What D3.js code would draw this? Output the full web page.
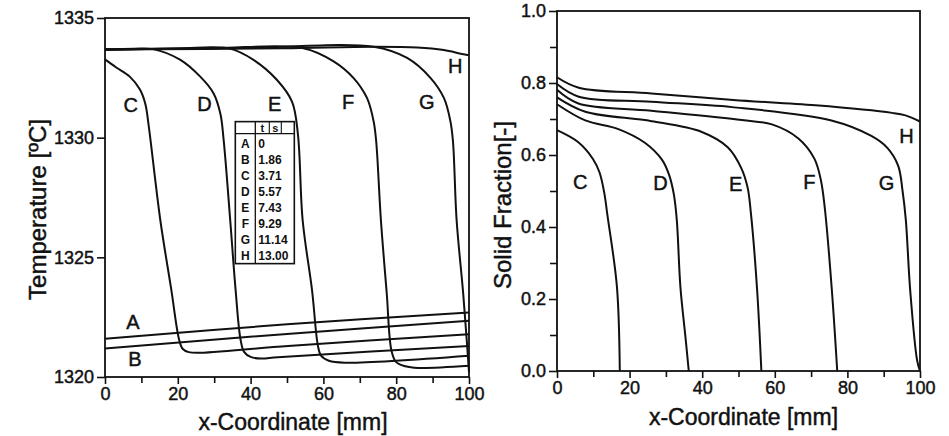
<!DOCTYPE html>
<html><head><meta charset="utf-8">
<script src="https://cdn.jsdelivr.net/npm/d3@7"></script>
<style>
body{margin:0;background:#fff}
svg text{font-family:"Liberation Sans",Arial,Helvetica,sans-serif;fill:#111;stroke:#111;stroke-width:0.45px}
</style></head><body>
<svg id="chart" width="949" height="436"></svg>
<script>
// ---- data ----
const xMajor = [0, 20, 40, 60, 80, 100];
const xMinor = [10, 30, 50, 70, 90];
const tempTicks = [1320, 1325, 1330, 1335];
const fracMajor = [0, 0.2, 0.4, 0.6, 0.8, 1.0];
const fracMinor = [0.1, 0.3, 0.5, 0.7, 0.9];

// temperature profiles [x mm, T degC]
const tempA = [[0, 1321.6], [50, 1322.2], [100, 1322.7]];
const tempB = [[0, 1321.19], [50, 1321.8], [100, 1322.35]];
const tempC = [[0, 1333.27], [3.1, 1332.93], [6.8, 1332.55], [9.6, 1332.01], [11.1, 1331.4], [12, 1330.5], [15.2, 1326.55], [18.2, 1323.66], [20.3, 1321.6], [21.3, 1321.18], [23, 1321.04], [25.5, 1321.01], [50.3, 1321.3], [100, 1321.79]];
const tempD = [[0, 1333.68], [8, 1333.72], [13.2, 1333.7], [20.6, 1333.26], [26.1, 1332.56], [29.8, 1331.86], [31.7, 1331.0], [32.6, 1329.9], [34.4, 1326.55], [35.9, 1323.6], [37.2, 1321.6], [38.2, 1321.05], [40, 1320.84], [42.9, 1320.77], [47.5, 1320.83], [100, 1321.3]];
const tempE = [[0, 1333.68], [20, 1333.73], [34.3, 1333.72], [40.8, 1333.25], [47.2, 1332.42], [51.4, 1331.5], [53, 1330.14], [54.3, 1326.55], [56.9, 1323.6], [58.5, 1321.3], [59.4, 1320.88], [61.5, 1320.68], [65.8, 1320.6], [100, 1320.89]];
const tempF = [[0, 1333.68], [30, 1333.74], [54.5, 1333.74], [62.8, 1333.19], [68.3, 1332.49], [72, 1331.65], [73.8, 1330.68], [74.5, 1329.85], [75.8, 1326.55], [77.4, 1323.5], [78.7, 1321.1], [80, 1320.62], [82.5, 1320.45], [86, 1320.38], [100, 1320.47]];
const tempG = [[0, 1333.68], [40, 1333.76], [73.8, 1333.8], [83, 1333.33], [89.4, 1332.5], [93.1, 1331.66], [94.9, 1330.68], [95.6, 1329.84], [96.6, 1326.55], [98.4, 1323.5], [99.4, 1321.5], [100, 1320.2]];
const tempH = [[0, 1333.68], [49, 1333.74], [73.8, 1333.8], [85.8, 1333.77], [93.1, 1333.66], [97.7, 1333.51], [100, 1333.44]];

// solid fraction profiles [x mm, fs]
const fracC = [[0, 0.669], [5.8, 0.636], [9.9, 0.589], [11.7, 0.552], [13, 0.496], [13.9, 0.432], [16.5, 0.235], [17.3, 0]];
const fracD = [[0, 0.741], [7.8, 0.696], [16.9, 0.672], [24.2, 0.634], [28.9, 0.587], [30.9, 0.544], [32.2, 0.49], [33, 0.42], [34, 0.233], [35.4, 0.093], [36.3, 0]];
const fracE = [[0, 0.76], [7.8, 0.72], [26.1, 0.694], [39.9, 0.664], [47.1, 0.621], [50.7, 0.565], [52.5, 0.51], [53.4, 0.44], [55.1, 0.23], [56.3, 0]];
const fracF = [[0, 0.781], [5.9, 0.743], [26, 0.723], [50.9, 0.697], [59.2, 0.685], [66.5, 0.646], [70.9, 0.59], [72.7, 0.53], [73.8, 0.45], [75.7, 0.227], [77.2, 0]];
const fracG = [[0, 0.797], [6, 0.762], [26, 0.748], [48.2, 0.733], [75.6, 0.696], [86.6, 0.653], [91, 0.62], [94, 0.57], [95.2, 0.5], [96.1, 0.419], [97.3, 0.224], [99.2, 0.03], [100, 0]];
const fracH = [[0, 0.816], [6, 0.787], [26, 0.771], [48.6, 0.753], [71.2, 0.738], [92.3, 0.717], [96, 0.71], [100, 0.693]];

// curve letters and where they sit (data units)
const tempLabels = [["A", 7.7, 1322.29], ["B", 8.2, 1320.76], ["C", 7.1, 1331.36], ["D", 27.3, 1331.41], ["E", 46.6, 1331.4], ["F", 66.8, 1331.5], ["G", 88.4, 1331.47], ["H", 96.2, 1333.0]];
const fracLabels = [["C", 6.4, 0.525], ["D", 28.5, 0.522], ["E", 49.2, 0.519], ["F", 69.5, 0.525], ["G", 90.8, 0.522], ["H", 96.3, 0.652]];

// time table
const tableKeys = ["A", "B", "C", "D", "E", "F", "G", "H"];
const tableTimes = ["0", "1.86", "3.71", "5.57", "7.43", "9.29", "11.14", "13.00"];

const svg = d3.select('#chart');

function panel(opts) {
  const g = svg.append('g');
  const x = opts.x, y = opts.y;
  const [x0, x1] = x.range(), [y0, y1] = y.range();

  // minor + major ticks
  g.append('g').attr('transform', `translate(0,${y0})`)
    .call(d3.axisBottom(x).tickValues(xMinor).tickSize(6).tickFormat(''));
  g.append('g').attr('transform', `translate(0,${y0})`)
    .call(d3.axisBottom(x).tickValues(xMajor).tickSize(7).tickPadding(3).tickFormat(d3.format('d')));
  if (opts.yMinor) {
    g.append('g').attr('transform', `translate(${x0},0)`)
      .call(d3.axisLeft(y).tickValues(opts.yMinor).tickSize(7).tickFormat(''));
  }
  g.append('g').attr('transform', `translate(${x0},0)`)
    .call(d3.axisLeft(y).tickValues(opts.yTicks).tickSize(8).tickPadding(3).tickFormat(opts.yFormat));

  g.selectAll('.domain').remove();
  g.selectAll('.tick line').attr('stroke', '#111').attr('stroke-width', 1.6);
  g.selectAll('.tick text').attr('font-size', 18).attr('fill', '#111')
    .style('font-family', '"Liberation Sans",Arial,sans-serif');

  g.append('rect')
    .attr('x', x0).attr('y', y1)
    .attr('width', x1 - x0).attr('height', y0 - y1)
    .attr('fill', 'none').attr('stroke', '#111').attr('stroke-width', 1.8);

  const line = d3.line().x(d => x(d[0])).y(d => y(d[1])).curve(d3.curveCatmullRom.alpha(0.5));
  g.selectAll('path.curve')
    .data(opts.series)
    .join('path')
    .attr('class', 'curve')
    .attr('d', line)
    .attr('fill', 'none')
    .attr('stroke', '#111')
    .attr('stroke-width', 2);

  g.selectAll('text.lab')
    .data(opts.labels)
    .join('text')
    .attr('class', 'lab')
    .attr('x', d => x(d[1]))
    .attr('y', d => y(d[2]))
    .attr('text-anchor', 'middle')
    .attr('dominant-baseline', 'central')
    .attr('font-size', 20)
    .text(d => d[0]);

  g.append('text')
    .attr('x', (x0 + x1) / 2 + opts.xTitleDx)
    .attr('y', opts.xTitleY)
    .attr('text-anchor', 'middle')
    .attr('font-size', 23)
    .text('x-Coordinate [mm]');

  g.append('text')
    .attr('transform', `translate(${opts.yTitleX},${(y0 + y1) / 2 + opts.yTitleDy}) rotate(-90)`)
    .attr('text-anchor', 'middle')
    .attr('dominant-baseline', 'central')
    .attr('font-size', 24)
    .text(opts.yTitle);

  return g;
}

const xT = d3.scaleLinear().domain([0, 100]).range([105, 469]);
const yT = d3.scaleLinear().domain([1320, 1335]).range([377, 18]);
const left = panel({
  x: xT, y: yT,
  yTicks: tempTicks, yFormat: d3.format('d'),
  series: [tempA, tempB, tempC, tempD, tempE, tempF, tempG, tempH],
  labels: tempLabels,
  xTitleDx: 6, xTitleY: 430,
  yTitle: 'Temperature [ºC]', yTitleX: 37, yTitleDy: 12
});

const xF = d3.scaleLinear().domain([0, 100]).range([557, 920]);
const yF = d3.scaleLinear().domain([0, 1]).range([371, 11]);
panel({
  x: xF, y: yF,
  yTicks: fracMajor, yMinor: fracMinor, yFormat: d3.format('.1f'),
  series: [fracC, fracD, fracE, fracF, fracG, fracH],
  labels: fracLabels,
  xTitleDx: 5, xTitleY: 425,
  yTitle: 'Solid Fraction[-]', yTitleX: 502, yTitleDy: 14
});

// time table on the left panel
const tx = xT(35.8), ty = yT(1330.67);
const tw = 59, hh = 12, rowH = 16, pad = 2;
const th = hh + pad + rowH * tableKeys.length;
const tab = left.append('g').attr('transform', `translate(${tx},${ty})`);
tab.append('rect').attr('width', tw).attr('height', th)
  .attr('fill', '#fff').attr('stroke', '#111').attr('stroke-width', 1.6);
tab.append('line').attr('x1', 0).attr('x2', tw).attr('y1', hh).attr('y2', hh)
  .attr('stroke', '#111').attr('stroke-width', 1.3);
tab.append('line').attr('x1', 20).attr('x2', 20).attr('y1', 0).attr('y2', th)
  .attr('stroke', '#111').attr('stroke-width', 1.3);
[34, 46].forEach(cx => tab.append('line').attr('x1', cx).attr('x2', cx).attr('y1', 0).attr('y2', hh)
  .attr('stroke', '#111').attr('stroke-width', 1.1));
tab.append('text').attr('x', 27).attr('y', hh / 2).attr('text-anchor', 'middle')
  .attr('dominant-baseline', 'central').attr('font-size', 11).attr('font-weight', 'bold').style('stroke-width', 0).text('t');
tab.append('text').attr('x', 40).attr('y', hh / 2).attr('text-anchor', 'middle')
  .attr('dominant-baseline', 'central').attr('font-size', 11).attr('font-weight', 'bold').style('stroke-width', 0).text('s');
const rows = tab.selectAll('g.row').data(tableKeys).join('g').attr('class', 'row')
  .attr('transform', (d, i) => `translate(0,${hh + pad + rowH * i + rowH / 2})`);
rows.append('text').attr('x', 10).attr('text-anchor', 'middle').attr('dominant-baseline', 'central')
  .attr('font-size', 12).attr('font-weight', 'bold').style('stroke-width', 0).text(d => d);
rows.append('text').attr('x', 23).attr('dominant-baseline', 'central')
  .attr('font-size', 12).attr('font-weight', 'bold').style('stroke-width', 0).text((d, i) => tableTimes[i]);
</script>
</body></html>
